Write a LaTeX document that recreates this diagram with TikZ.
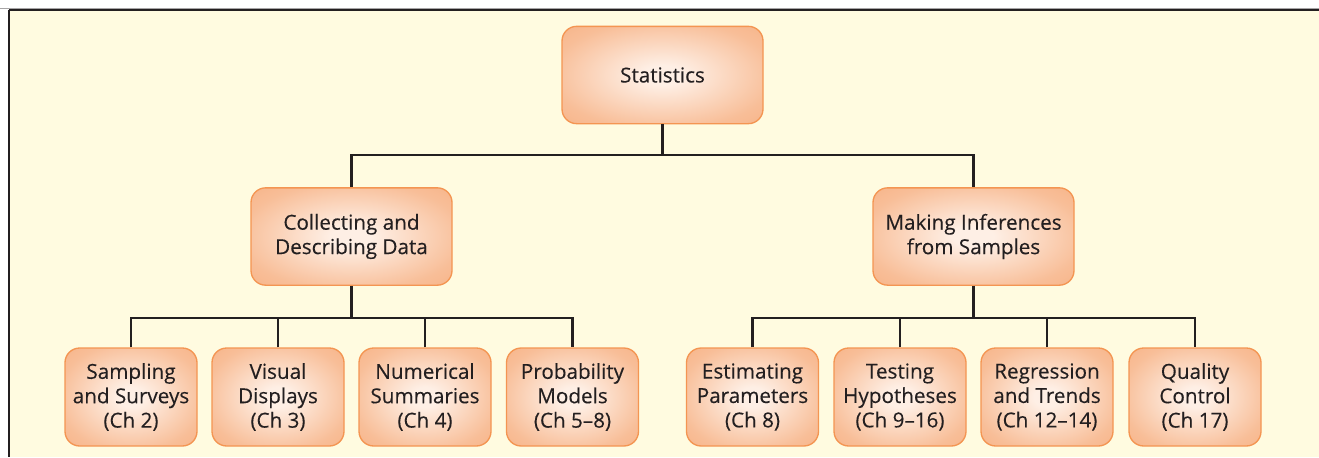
\documentclass[tikz,border=0pt]{standalone}
\usepackage{fontspec}
\newfontfamily\boxfont[FakeBold=0.25]{Open Sans}
\definecolor{cream}{HTML}{FFFBE0}
\definecolor{boxedge}{HTML}{F49552}
\definecolor{boxout}{HTML}{F5A774}
\definecolor{boxmid}{HTML}{F8BE98}
\definecolor{boxin}{HTML}{FEEFE5}
\definecolor{ink}{HTML}{231F20}
\pgfdeclareradialshading{boxshade}{\pgfpoint{0bp}{0bp}}{%
  color(0bp)=(boxin); color(5bp)=(boxin); color(28bp)=(boxmid); color(48bp)=(boxout)}
\tikzset{
  box/.style={draw=boxedge, line width=1pt, rounded corners=11pt, shading=boxshade,
    align=center, text=ink,
    font=\boxfont\fontsize{15.5}{18.3}\selectfont, inner sep=0pt},
  bigbox/.style={box, minimum width=150.75pt, minimum height=73pt},
  smallbox/.style={box, minimum width=99pt, minimum height=73.5pt},
  conn/.style={draw=ink, line width=2.2pt}
}
\begin{document}
\begin{tikzpicture}[x=0.75pt,y=-0.75pt]
\useasboundingbox (0,0) rectangle (1319,457);
\fill[cream] (9,9.5) rectangle (1319,457);
\draw[ink!40, line width=0.6pt] (0,8) -- (1319,8);
\draw[ink, line width=1.5pt] (8.5,9.5) -- (1319,9.5);
\draw[ink, line width=1.5pt] (8.5,9.5) -- (8.5,457);

\node[bigbox] (stat) at (662.5,75) {Statistics};
\node[bigbox] (coll) at (351.5,236.5) {Collecting and\\Describing Data};
\node[bigbox] (mak) at (973.5,236.5) {Making Inferences\\from Samples};

\node[smallbox] (samp) at (131,397) {Sampling\\and Surveys\\(Ch 2)};
\node[smallbox] (vis) at (278,397) {Visual\\Displays\\(Ch 3)};
\node[smallbox] (num) at (425,397) {Numerical\\Summaries\\(Ch 4)};
\node[smallbox] (prob) at (572.5,397) {Probability\\Models\\(Ch 5–8)};
\node[smallbox] (est) at (752.5,397) {Estimating\\Parameters\\(Ch 8)};
\node[smallbox] (test) at (900,397) {Testing\\Hypotheses\\(Ch 9–16)};
\node[smallbox] (reg) at (1047,397) {Regression\\and Trends\\(Ch 12–14)};
\node[smallbox] (qual) at (1195,397) {Quality\\Control\\(Ch 17)};

\coordinate (j1) at (662.5,155);
\coordinate (j2) at (351.5,318);
\coordinate (j3) at (973.5,318);

\draw[conn] (stat.south) -- (j1);
\draw[conn] (coll.north) |- (j1) -| (mak.north);
\draw[conn] (coll.south) -- (j2);
\draw[conn] (samp.north) |- (j2) -| (prob.north);
\draw[conn] (vis.north) -- (vis.north |- j2);
\draw[conn] (num.north) -- (num.north |- j2);
\draw[conn] (mak.south) -- (j3);
\draw[conn] (est.north) |- (j3) -| (qual.north);
\draw[conn] (test.north) -- (test.north |- j3);
\draw[conn] (reg.north) -- (reg.north |- j3);
\end{tikzpicture}
\end{document}
